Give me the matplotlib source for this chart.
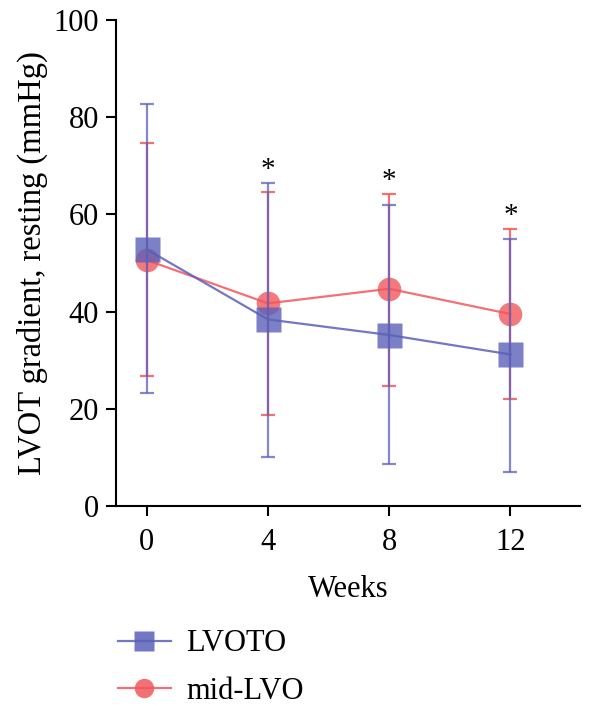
import numpy as np
import matplotlib.pyplot as plt

# data
weeks = [0, 4, 8, 12]
lvoto_mean = [52.8, 38.4, 35.2, 31.2]
lvoto_upper = [82.6, 66.5, 61.9, 55.0]
lvoto_lower = [23.2, 10.1, 8.6, 7.0]
mid_mean = [50.6, 41.7, 44.7, 39.5]
mid_upper = [74.6, 64.5, 64.1, 57.0]
mid_lower = [26.8, 18.7, 24.8, 22.0]
star_weeks = [4, 8, 12]

blue = '#5b60b8'
red = '#f2575d'

plt.rcParams['font.family'] = ['Liberation Serif', 'DejaVu Serif']

fig = plt.figure(figsize=(6, 7.07), dpi=100)
ax = fig.add_axes([0.193, 0.284, 0.774, 0.688])

mid_err = [np.array(mid_mean) - np.array(mid_lower), np.array(mid_upper) - np.array(mid_mean)]
lvoto_err = [np.array(lvoto_mean) - np.array(lvoto_lower), np.array(lvoto_upper) - np.array(lvoto_mean)]

# mid-LVO drawn first, LVOTO on top
ax.errorbar(weeks, mid_mean, yerr=mid_err, color=red, alpha=0.85, lw=1.6,
            capsize=5, capthick=1.6, fmt='none', zorder=2)
ax.plot(weeks, mid_mean, color=red, lw=1.6, alpha=0.85, zorder=3)
ax.plot(weeks, mid_mean, 'o', color=red, ms=17, mec='none', alpha=0.8, zorder=3)

ax.errorbar(weeks, lvoto_mean, yerr=lvoto_err, color=blue, alpha=0.75, lw=1.6,
            capsize=5, capthick=1.6, fmt='none', zorder=4)
ax.plot(weeks, lvoto_mean, color=blue, lw=1.6, alpha=0.85, zorder=5)
ax.plot(weeks, lvoto_mean, 's', color=blue, ms=18, mec='none', alpha=0.8, zorder=5)

for w in star_weeks:
    i = weeks.index(w)
    top = max(lvoto_upper[i], mid_upper[i])
    ax.annotate('*', (w, top), xytext=(0, 0), textcoords='offset points',
                ha='center', va='bottom', fontsize=21)

ax.set_xlim(-1.02, 14.3)
ax.set_ylim(0, 100)
ax.set_xticks(weeks)
ax.set_yticks([0, 20, 40, 60, 80, 100])
ax.spines['top'].set_visible(False)
ax.spines['right'].set_visible(False)
ax.spines['left'].set_linewidth(1.5)
ax.spines['bottom'].set_linewidth(1.5)
ax.tick_params(width=1.5, length=7, labelsize=22)
ax.tick_params(axis='x', pad=9)
ax.tick_params(axis='y', pad=5)
ax.set_xlabel('Weeks', fontsize=22, labelpad=13)
ax.set_ylabel('LVOT gradient, resting (mmHg)', fontsize=23.5, labelpad=4)

h1, = ax.plot([], [], color=blue, lw=1.6, marker='s', ms=14, mec='none', alpha=0.85)
h2, = ax.plot([], [], color=red, lw=1.6, marker='o', ms=14, mec='none', alpha=0.85)
fig.legend([h1, h2], ['LVOTO', 'mid-LVO'], loc='lower left',
           bbox_to_anchor=(0.15, -0.037), frameon=False, fontsize=22,
           handlelength=1.75, labelspacing=0.6, handletextpad=0.5)

fig.savefig('out.png', dpi=100)
